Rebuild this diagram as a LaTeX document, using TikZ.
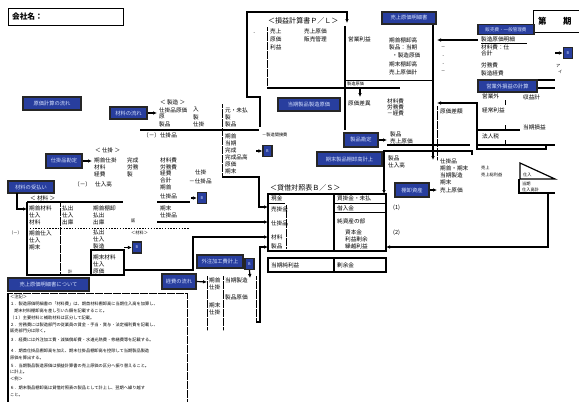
\documentclass[tikz,border=0pt]{standalone}
\usepackage{fontspec}
\setmainfont{Noto Sans CJK JP}
\usetikzlibrary{arrows.meta,positioning}
\definecolor{boxblue}{RGB}{40,62,158}
\definecolor{boxtext}{RGB}{214,226,255}

\begin{document}
\begin{tikzpicture}[
  x=0.05cm, y=-0.05cm,
  bb/.style={draw=black!85, line width=1.6pt, fill=boxblue, text=boxtext, font=\fontsize{7.5}{8}\selectfont, inner sep=0pt},
  sq/.style={bb, minimum width=0.45cm, minimum height=0.55cm, font=\fontsize{5.5}{6}\selectfont},
  tx/.style={anchor=west, inner sep=0pt, font=\fontsize{8}{9}\selectfont},
  sm/.style={anchor=west, inner sep=0pt, font=\fontsize{6}{7}\selectfont},
  nt/.style={anchor=west, inner sep=0pt, font=\fontsize{6}{7}\selectfont},
  ttl/.style={anchor=west, inner sep=0pt, font=\fontsize{10}{11}\selectfont},
  ln/.style={line width=1.7pt},
  rule/.style={line width=0.7pt},
  dotl/.style={line width=0.6pt, densely dotted},
  arr/.style={-{Latex[length=2mm,width=1.8mm]}, line width=1.7pt}
]
\fill[white] (0,0) rectangle (579,401);
\useasboundingbox (0,0) rectangle (579,401);

% heading
\node[draw, line width=1.5pt, anchor=north west, minimum width=5.75cm, minimum height=0.85cm, text width=5.4cm, inner sep=3pt, font=\fontsize{11}{12}\selectfont\bfseries] (firm) at (8,8) {会社名：};
\node[draw, line width=1.5pt, anchor=north west, minimum width=3cm, minimum height=1.1cm, inner sep=0pt] (term) at (533,10) {};
\node[anchor=west, inner sep=0pt, font=\fontsize{12}{13}\selectfont\bfseries] (termA) at (538,21) {第};
\node[anchor=west, inner sep=0pt, font=\fontsize{12}{13}\selectfont\bfseries] (termB) at (563,21) {期};

% P/L
\coordinate (plA) at (260,127);
\coordinate (plB) at (260,97);
\coordinate (plC) at (247,97);
\coordinate (plD) at (247,12);
\coordinate (plE) at (347,12);
\coordinate (plF) at (347,23);
\draw[arr] (plA) -- (plB) -- (plC) -- (plD) -- (plE) -- (plF);
\node[ttl] (plt) at (268,21) {＜損益計算書Ｐ／Ｌ＞};
\draw[dotl] (267,27) -- (267,88);
\draw[ln] (345,26) -- (345,130);
\draw[ln] (267,88) -- (400,88);
\draw[rule] (345,80) -- (433,80);
\draw[ln] (433,24) -- (433,80);
\node[sm] (pldot) at (252,33) {・};
\node[tx] (pl1) at (270,31) {売上};
\node[tx] (pl2) at (270,39) {原価};
\node[tx] (pl3) at (270,47) {利益};
\node[tx] (pl4) at (304,31) {売上原価};
\node[tx] (pl5) at (304,39) {販売管理};
\node[tx] (pl6) at (348,39) {営業利益};
\node[sm] (pl7) at (347,84) {製造原価};
\coordinate (plG) at (360,88);
\coordinate (plH) at (360,97);
\draw[arr] (plG) -- (plH);

% cost of sales
\node[bb, minimum width=2.7cm, minimum height=0.6cm] (cogs) at (409,18) {売上原価明細書};
\node[tx] (cg1) at (389,40) {期首棚卸高};
\node[tx] (cg2) at (389,47) {製品：当期};
\node[tx] (cg3) at (392,55) {・製造原価};
\node[tx] (cg4) at (389,64) {期末棚卸高};
\node[tx] (cg5) at (389,72) {売上原価計};
\node[sm] (cg6) at (441,48) {－};
\node[sm] (cg7) at (441,56) {・};
\node[sm] (cg8) at (441,64) {・};
\node[sm] (cg9) at (441,72) {－};
\coordinate (sgA) at (478,40);
\coordinate (sgB) at (437,40);
\draw[arr] (sgA) -- (sgB);

% selling and admin
\node[bb, minimum width=2.8cm, minimum height=0.5cm, font=\fontsize{6.5}{7}\selectfont] (sga) at (506,29.5) {販売費・一般管理費};
\node[tx] (sg1) at (481,39) {製造原価明細};
\draw[rule] (481,43) -- (527,43);
\node[tx] (sg2) at (481,47) {材料費：仕};
\node[tx] (sg3) at (481,53) {合計};
\node[tx] (sg4) at (481,65) {労務費};
\node[tx] (sg5) at (481,73) {製造経費};
\node[sm] (sg6) at (556,66) {ア};
\node[sm] (sg7) at (558,72) {イ};
\node[sq] (s5) at (568,53) {B};
\coordinate (s5a) at (555,53);
\draw[arr] (s5a) -- (s5.west);
\draw[ln] (478,80) -- (555,80);
\draw[ln] (537,88) -- (555,88);

% non-operating
\node[bb, minimum width=2.95cm, minimum height=0.6cm] (nop) at (507.5,86) {営業外損益の計算};
\node[tx] (np1) at (482,96) {営業外};
\node[tx] (np2) at (523,97) {収益計};
\draw[rule] (505,100) -- (505,105);
\node[tx] (np3) at (482,110) {経常利益};
\draw[ln] (478,130) -- (520,130);
\draw[rule] (505,125) -- (505,130);
\node[tx] (np4) at (523,127) {当期損益};
\node[tx] (np5) at (482,136) {法人税};
\draw[ln] (478,145) -- (555,145);
\draw[rule] (505,140) -- (505,145);
\coordinate (npA) at (546,145);
\coordinate (npB) at (546,149);
\coordinate (npC) at (477,149);
\coordinate (npD) at (477,103);
\coordinate (npE) at (437,103);
\draw[arr] (npA) -- (npB) -- (npC) -- (npD) -- (npE);
\node[tx] (np6) at (440,111) {原価差額};

% manufacturing report
\node[bb, minimum width=3.1cm, minimum height=0.65cm] (mfr) at (309,104.5) {当期製品製造原価};
\node[tx] (mr1) at (348,103) {原価差異};
\node[tx] (mr2) at (387,101) {材料費};
\node[tx] (mr3) at (387,107) {労務費};
\node[tx] (mr4) at (387,113) {－経費};
\coordinate (crA) at (433,80);
\coordinate (crB) at (433,160);
\draw[arr] (crA) -- (crB);
\draw[dotl] (437,106) -- (437,160);

% products
\node[bb, minimum width=1.7cm, minimum height=0.7cm] (prd) at (361,140) {製品勘定};
\coordinate (prdA) at (387,140);
\draw[arr] (prd.east) -- (prdA);
\node[tx] (pd1) at (390,134) {製品};
\node[tx] (pd2) at (390,141) {売上原価};
\draw[ln] (387,145) -- (470,145);
\node[bb, minimum width=3.25cm, minimum height=0.7cm] (endp) at (349.5,159) {期末製品棚卸高計上};
\coordinate (epA) at (472,155);
\coordinate (epB) at (472,151);
\coordinate (epC) at (384,151);
\coordinate (bsT) at (384,194);
\draw[arr] (epA) -- (epB) -- (epC) -- (bsT);
\node[tx] (pd3) at (388,158) {製品};
\node[tx] (pd4) at (388,165) {仕入高};
\node[tx] (pd5) at (440,161) {仕掛品};
\node[tx] (pd6) at (440,168) {期首・期末};
\node[tx] (pd7) at (440,175) {当期製造};
\node[tx] (pd8) at (440,182) {期末};
\node[tx] (pd9) at (440,190) {売上原価};
\node[bb, minimum width=1.7cm, minimum height=0.7cm] (inv) at (412,190) {棚卸資産};
\coordinate (invA) at (437,190);
\draw[arr] (inv.east) -- (invA);
\node[tx] (pd10) at (393,208) {(1)};
\node[tx] (pd11) at (393,233) {(2)};
\node[sm] (pd12) at (481,168) {売上};
\node[sm] (pd13) at (481,175) {売上総利益};

% purchase flag
\draw[ln] (520,163) -- (555,179) -- (520,179) -- cycle;
\node[sm] (fg1) at (523,175) {仕入};
\node[sm] (fg2) at (522,184) {当期};
\node[sm] (fg3) at (522,190) {仕入高計};
\coordinate (fgA) at (555,193);
\coordinate (fgB) at (519,193);
\draw[ln] (519,179) -- (fgB) -- (fgA);
\coordinate (fgC) at (548,193);
\coordinate (fgD) at (548,247);
\coordinate (bsR) at (386,247);
\draw[arr] (fgC) -- (fgD) -- (bsR);

% B/S
\node[ttl] (bst) at (270,188) {＜貸借対照表Ｂ／Ｓ＞};
\node[draw, line width=1.7pt, minimum width=5.9cm, minimum height=2.85cm, inner sep=0pt] (bs) at (327,222.5) {};
\draw[ln] (334,194) -- (334,251);
\draw[rule] (334,203) -- (386,203);
\draw[rule] (334,212) -- (386,212);
\draw[rule] (268,203) -- (285,203);
\draw[dotl] (286,205) -- (286,248);
\node[tx] (bs1) at (271,198) {現金};
\node[tx] (bs2) at (271,209) {売掛金};
\node[tx] (bs3) at (271,223) {仕掛品};
\node[tx] (bs4) at (271,237) {材料};
\node[tx] (bs5) at (271,246) {製品};
\node[tx] (bs6) at (337,198) {買掛金・未払};
\node[tx] (bs7) at (337,208) {借入金};
\node[tx] (bs8) at (337,221) {純資産の部};
\node[tx] (bs9) at (345,232) {資本金};
\node[tx] (bs10) at (345,239) {利益剰余};
\node[tx] (bs11) at (345,246) {繰越利益};
\node[draw, line width=1.7pt, minimum width=5.9cm, minimum height=0.7cm, inner sep=0pt] (bsn) at (327,265) {};
\draw[ln] (334,258) -- (334,272);
\node[tx] (bs12) at (271,265) {当期純利益};
\node[tx] (bs13) at (337,265) {剰余金};

% production account
\node[bb, minimum width=2.9cm, minimum height=0.65cm] (flow) at (52,103.5) {原価計算の流れ};
\node[bb, minimum width=1.85cm, minimum height=0.6cm] (mat) at (128.5,113) {材料の流れ};
\coordinate (matA) at (157,113);
\draw[arr] (mat.east) -- (matA);
\node[anchor=west, inner sep=0pt, font=\fontsize{8}{9}\selectfont] (mft) at (160,102) {＜ 製造 ＞};
\node[tx] (mf1) at (159,110) {仕掛品原価};
\node[tx] (mf2) at (159,117) {原};
\node[tx] (mf3) at (159,124) {製品};
\node[tx] (mf4) at (193,110) {入};
\node[tx] (mf5) at (193,117) {製};
\node[tx] (mf6) at (193,124) {仕掛};
\node[tx] (mf7) at (225,110) {元・未払};
\node[tx] (mf8) at (225,117) {製};
\node[tx] (mf9) at (225,124) {製品};
\draw[ln] (140,130) -- (259,130);
\node[tx] (mf10) at (143,135) {（－）仕掛品};
\draw[dotl] (222,104) -- (222,177);
\node[tx] (mf11) at (225,136) {期首};
\node[tx] (mf12) at (225,143) {当期};
\node[tx] (mf13) at (225,150) {完成};
\node[tx] (mf14) at (225,157) {完成品高};
\node[tx] (mf15) at (225,164) {原価};
\node[tx] (mf16) at (225,171) {期末};
\node[sm] (mf17) at (262,135) {－製造間接費};
\node[sq] (s2) at (267.5,151) {B};
\coordinate (s2a) at (256,151);
\draw[arr] (s2a) -- (s2.west);
\coordinate (mfA) at (222,177);
\coordinate (mfB) at (259,177);
\coordinate (mfC) at (259,207);
\coordinate (bsA) at (268,207);
\draw[arr] (mfA) -- (mfB) -- (mfC) -- (bsA);
\node[tx] (mf18) at (195,172) {仕掛};
\node[tx] (mf19) at (189,181) {－仕掛品};
\node[sq] (s3) at (202,198) {B};
\coordinate (s3a) at (191,198);
\draw[arr] (s3a) -- (s3.west);

% work in process
\node[bb, minimum width=1.8cm, minimum height=0.7cm] (wip) at (64,161) {仕掛品勘定};
\coordinate (wipA) at (92,161);
\draw[arr] (wip.east) -- (wipA);
\node[anchor=west, inner sep=0pt, font=\fontsize{8}{9}\selectfont] (wpt) at (95,150) {＜ 仕掛 ＞};
\node[tx] (wp1) at (94,160) {期首仕掛};
\node[tx] (wp2) at (94,167) {材料};
\node[tx] (wp3) at (94,174) {経費};
\node[tx] (wp4) at (127,160) {完成};
\node[tx] (wp5) at (127,167) {労務};
\node[tx] (wp6) at (127,174) {製};
\node[tx] (wp7) at (74,184) {（－）};
\node[tx] (wp8) at (95,184) {仕入高};
\node[tx] (wp9) at (160,160) {材料費};
\node[tx] (wp10) at (160,167) {労務費};
\node[tx] (wp11) at (160,173) {経費};
\node[tx] (wp12) at (160,180) {合計};
\node[tx] (wp13) at (160,187) {期首};
\node[tx] (wp14) at (160,196) {仕掛品};
\draw[ln] (157,202) -- (190,202);
\node[tx] (wp15) at (160,208) {期末};
\node[tx] (wp16) at (160,215) {仕掛品};
\coordinate (wpA) at (157,222);
\coordinate (bsB) at (268,222);
\draw[arr] (wpA) -- (bsB);

% materials
\node[bb, minimum width=2.3cm, minimum height=0.6cm] (buy) at (31,187) {材料の受払い};
\coordinate (buyA) at (17,193);
\coordinate (buyB) at (17,209);
\coordinate (buyC) at (27,209);
\draw[arr] (buyA) -- (buyB) -- (buyC);
\node[anchor=west, inner sep=0pt, font=\fontsize{8}{9}\selectfont] (mtt) at (30,198) {＜ 材料 ＞};
\draw[ln] (27,202) -- (123,202);
\draw[ln] (27,202) -- (27,275) -- (91,275);
\draw[dotl] (60,203) -- (60,274);
\draw[dotl, dash pattern=on 2pt off 2pt] (27,228) -- (190,228);
\node[tx] (mt1) at (29,208) {期首材料};
\node[tx] (mt2) at (29,215) {仕入};
\node[tx] (mt3) at (29,222) {材料};
\node[tx] (mt4) at (29,233) {期首仕入};
\node[tx] (mt5) at (29,240) {仕入};
\node[tx] (mt6) at (29,247) {期末};
\node[tx] (mt7) at (62,208) {払出};
\node[tx] (mt8) at (62,215) {仕入};
\node[tx] (mt9) at (62,222) {出庫};
\node[sm] (mt10) at (68,272) {計};
\node[tx] (mt11) at (93,208) {期首棚卸};
\node[tx] (mt12) at (93,215) {払出};
\node[tx] (mt13) at (93,222) {出庫};
\node[tx] (mt14) at (93,232) {払出};
\node[tx] (mt15) at (93,239) {仕入};
\node[tx] (mt16) at (93,246) {製造};
\node[sm] (mt17) at (131,221) {販};
\node[sm] (mt18) at (131,233) {＜材料＞};
\node[sm] (mt19) at (9,233) {（－）};
\node[draw, line width=1.7pt, minimum width=1.65cm, minimum height=1.25cm, inner sep=0pt] (mbox) at (107.5,262.5) {};
\node[tx] (mb1) at (93,257) {期末材料};
\node[tx] (mb2) at (93,264) {仕入};
\node[tx] (mb3) at (93,271) {原価};
\node[sq] (s4) at (137,247.5) {B};
\coordinate (s4a) at (124,247.5);
\draw[arr] (s4a) -- (s4.west);
\coordinate (mbA) at (124,270);
\coordinate (mbB) at (193,270);
\coordinate (mbC) at (193,237);
\coordinate (bsC) at (268,237);
\draw[arr] (mbA) -- (mbB) -- (mbC) -- (bsC);

% expenses and subcontract
\node[bb, minimum width=1.7cm, minimum height=0.75cm] (exp) at (179,281.5) {経費の流れ};
\coordinate (expA) at (207,282);
\draw[arr] (exp.east) -- (expA);
\node[bb, minimum width=2.3cm, minimum height=0.65cm] (sub) at (220,261.5) {外注加工費計上};
\node[sq] (s1) at (249.5,264) {B};
\coordinate (s1a) at (250,278);
\draw[arr] (s1.south) -- (s1a);
\draw[dotl] (207,276) -- (207,330);
\draw[dotl] (223,276) -- (223,330);
\draw[dotl] (256,276) -- (256,322);
\node[tx] (ex1) at (209,280) {期首};
\node[tx] (ex2) at (209,287) {仕掛};
\node[tx] (ex3) at (209,305) {期末};
\node[tx] (ex4) at (209,312) {仕掛};
\node[tx] (ex5) at (225,280) {当期製造};
\node[tx] (ex6) at (225,297) {製品原価};
\coordinate (exA) at (256,322);
\coordinate (exB) at (260,322);
\coordinate (exC) at (260,247);
\coordinate (bsD) at (268,247);
\draw[arr] (exA) -- (exB) -- (exC) -- (bsD);

% notes
\node[bb, minimum width=4.05cm, minimum height=0.65cm] (note) at (48.5,284.5) {売上原価明細書について};
\draw[ln] (8,293) -- (8,402);
\draw[dotl] (8,293) -- (187,293) -- (187,402);
\node[nt] (n1) at (10,297) {＜注記＞};
\node[nt] (n2) at (10,304) {１．製造原価明細書の「材料費」は、期首材料棚卸高に当期仕入高を加算し、};
\node[nt] (n3) at (10,311) {　期末材料棚卸高を差し引いた額を記載すること。};
\node[nt] (n4) at (10,318) {（１）主要材料と補助材料は区分して記載。};
\node[nt] (n5) at (10,325) {２．労務費には製造部門の従業員の賃金・手当・賞与・法定福利費を記載し、};
\node[nt] (n6) at (10,331) {販売部門分は除く。};
\node[nt] (n7) at (10,340) {３．経費には外注加工費・減価償却費・水道光熱費・修繕費等を記載する。};
\node[nt] (n8) at (10,351) {４．期首仕掛品棚卸高を加え、期末仕掛品棚卸高を控除して当期製品製造};
\node[nt] (n9) at (10,358) {原価を算出する。};
\node[nt] (n10) at (10,366) {５．当期製品製造原価は損益計算書の売上原価の区分へ振り替えること。};
\node[nt] (n11) at (10,372) {に計上。};
\node[nt] (n12) at (10,379) {＜例＞};
\node[nt] (n13) at (10,388) {６．期末製品棚卸高は貸借対照表の製品として計上し、翌期へ繰り越す};
\node[nt] (n14) at (10,395) {こと。};
\end{tikzpicture}
\end{document}
